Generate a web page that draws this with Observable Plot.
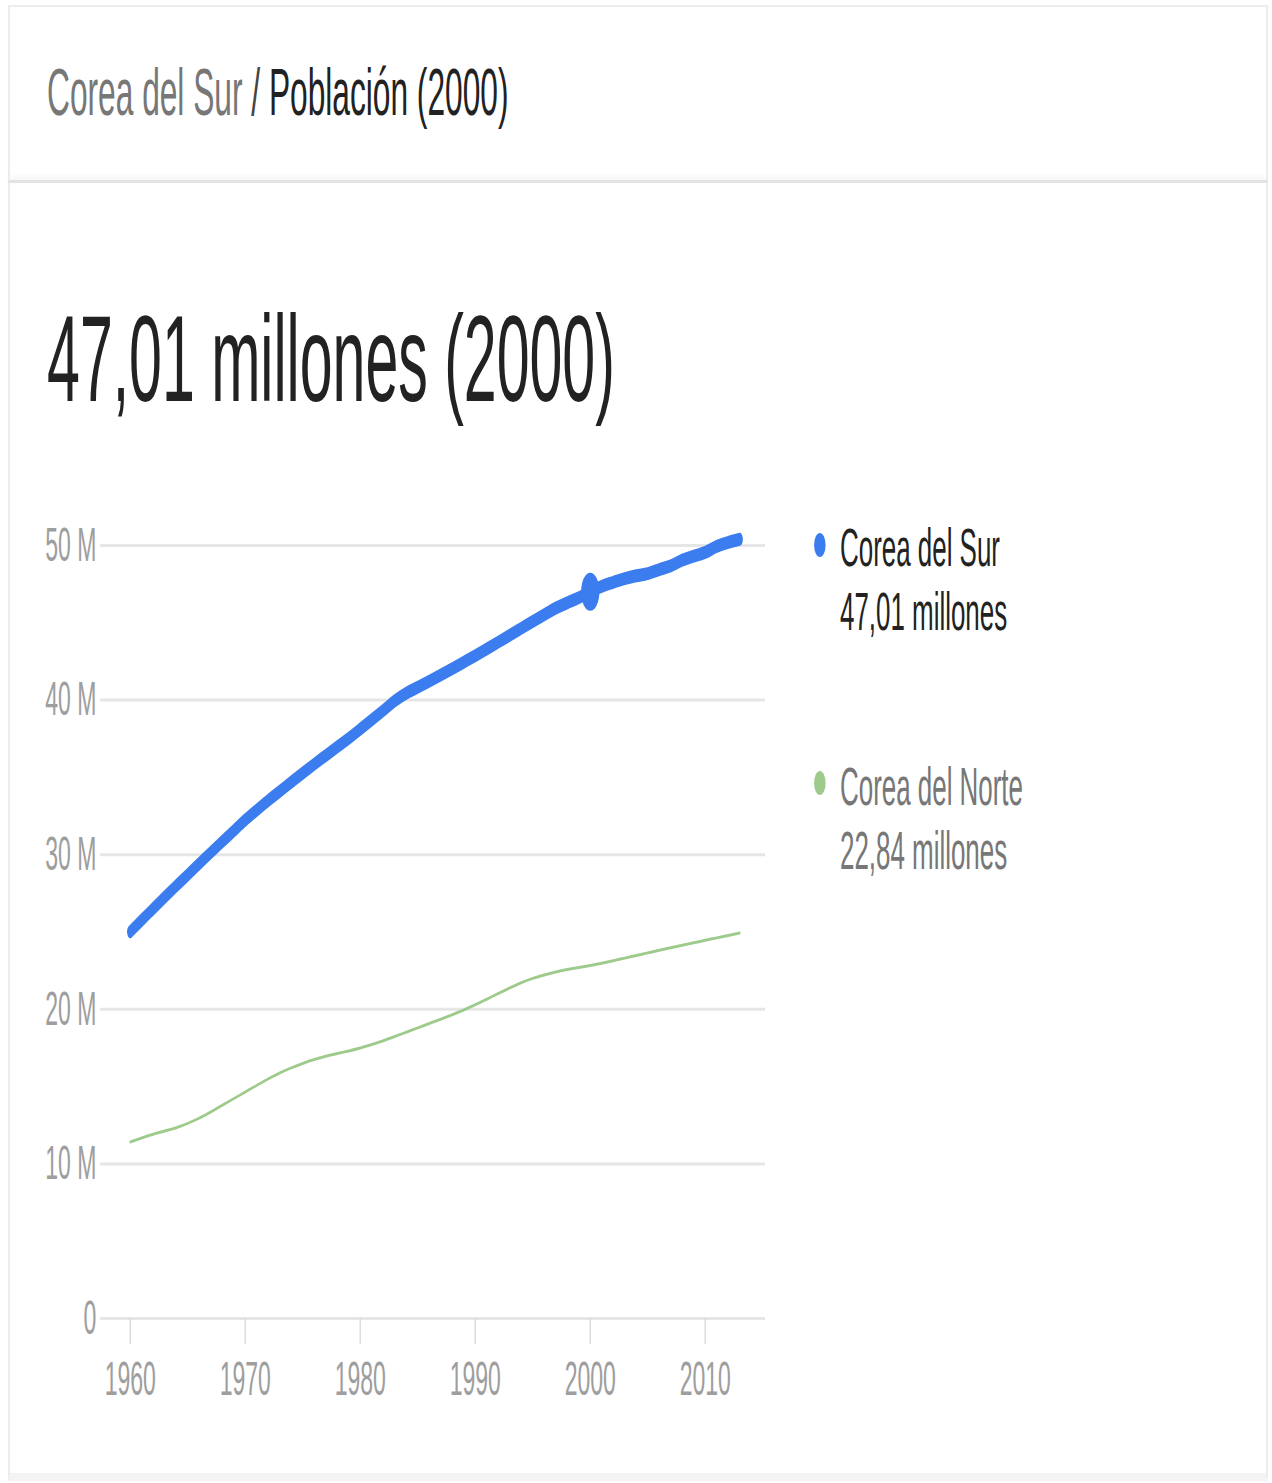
<!DOCTYPE html>
<html><head><meta charset="utf-8">
<script src="https://cdn.jsdelivr.net/npm/d3@7"></script>
<script src="https://cdn.jsdelivr.net/npm/@observablehq/plot@0.6"></script>
<style>
html,body{margin:0;padding:0;background:#fff;overflow:hidden;width:1272px;height:1483px;}
#card{position:absolute;left:8px;top:5px;width:1256px;height:1466px;border:2px solid #ececec;border-bottom:8px solid #f3f3f3;}
#sep{position:absolute;left:8px;top:180px;width:1260px;height:3px;background:#e3e3e3;box-shadow:0 -3px 5px #f1f1f1;}
#stage{position:absolute;left:0;top:0;width:2650px;height:1483px;transform:scaleX(0.48);transform-origin:0 0;font-family:"Liberation Sans",Arial,sans-serif;}
.t{position:absolute;white-space:nowrap;line-height:1;}
.dot{position:absolute;width:24px;height:24px;border-radius:50%;}
#plot{position:absolute;left:0;top:480px;}
</style></head>
<body>
<div id="card"></div>
<div id="sep"></div>
<div id="stage">
  <div class="t" id="title" style="left:98px;top:59px;font-size:66px;"></div>
  <div class="t" id="big" style="left:98px;top:297px;font-size:123px;color:#222;"></div>
  <div id="plot"></div>
  <div class="dot" id="d1" style="left:1696px;top:533px;"></div>
  <div class="t" id="l1a" style="left:1750px;top:520px;font-size:54px;color:#222;"></div>
  <div class="t" id="l1b" style="left:1750px;top:584px;font-size:54px;color:#222;"></div>
  <div class="dot" id="d2" style="left:1696px;top:771px;"></div>
  <div class="t" id="l2a" style="left:1750px;top:759px;font-size:54px;color:#777;"></div>
  <div class="t" id="l2b" style="left:1750px;top:823px;font-size:54px;color:#777;"></div>
</div>
<script>
const countryName = "Corea del Sur";
const otherName = "Corea del Norte";
const metricName = "Población";
const selYear = 2000;
const years = [1960,1961,1962,1963,1964,1965,1966,1967,1968,1969,1970,1971,1972,1973,1974,1975,1976,1977,1978,1979,1980,1981,1982,1983,1984,1985,1986,1987,1988,1989,1990,1991,1992,1993,1994,1995,1996,1997,1998,1999,2000,2001,2002,2003,2004,2005,2006,2007,2008,2009,2010,2011,2012,2013];
// millions
const south = [25.01,25.77,26.51,27.26,27.98,28.70,29.43,30.13,30.84,31.54,32.24,32.88,33.51,34.10,34.69,35.28,35.85,36.41,36.97,37.53,38.12,38.72,39.33,39.95,40.45,40.83,41.22,41.62,42.03,42.45,42.87,43.30,43.75,44.19,44.64,45.09,45.52,45.95,46.29,46.62,47.01,47.36,47.62,47.86,48.04,48.18,48.44,48.68,49.05,49.31,49.55,49.94,50.20,50.40];
const north = [11.42,11.68,11.92,12.13,12.34,12.62,12.96,13.36,13.79,14.22,14.65,15.08,15.50,15.88,16.21,16.50,16.75,16.96,17.14,17.31,17.50,17.72,17.97,18.24,18.52,18.80,19.08,19.36,19.65,19.96,20.29,20.65,21.02,21.38,21.72,22.00,22.22,22.41,22.57,22.71,22.84,22.98,23.14,23.31,23.48,23.65,23.82,23.98,24.14,24.30,24.46,24.62,24.78,24.93];
const yTicks = [0,10,20,30,40,50];
const xTicks = [1960,1970,1980,1990,2000,2010];
const blue = "#3b7dee";
const green = "#9ecb8c";

const s = 0.48;
const data = years.map((y,i)=>({year:y, south:south[i], north:north[i]}));
const sel = data.find(d=>d.year===selYear);
const fmt = v => v.toFixed(2).replace(".", ",") + " millones";

document.getElementById("title").innerHTML =
  `<span style="color:#777">${countryName}</span><span style="color:#444"> / </span><span style="color:#222">${metricName} (${selYear})</span>`;
document.getElementById("big").textContent = `${fmt(sel.south)} (${selYear})`;
document.getElementById("l1a").textContent = countryName;
document.getElementById("l1b").textContent = fmt(sel.south);
document.getElementById("l2a").textContent = otherName;
document.getElementById("l2b").textContent = fmt(sel.north);
document.getElementById("d1").style.background = blue;
document.getElementById("d2").style.background = green;

const W = 1650;
const chart = Plot.plot({
  width: W, height: 938,
  marginLeft: 100/s, marginRight: W - 765/s, marginTop: 65, marginBottom: 100,
  x: {domain: [1960 - 30/11.5, 1960 + 635/11.5]},
  y: {domain: [0, 50]},
  style: {fontFamily: '"Liberation Sans", Arial, sans-serif', fontSize: "48px", color: "#9e9e9e", background: "transparent", overflow: "visible"},
  marks: [
    Plot.ruleY(yTicks, {stroke: "#e6e6e6", strokeWidth: 3}),
    Plot.axisY({ticks: yTicks, tickSize: 0, tickPadding: 8, tickFormat: d => d ? d + " M" : "0", fill: "#9e9e9e", label: null}),
    Plot.axisX({ticks: xTicks, tickSize: 26, stroke: "#dcdcdc", strokeWidth: 3, tickFormat: () => "", label: null}),
    Plot.axisX({ticks: xTicks, tickSize: 0, tickPadding: 42, tickFormat: d => String(d), fill: "#9e9e9e", label: null}),
    Plot.lineY(data, {x: "year", y: "north", stroke: green, strokeWidth: 3, curve: "monotone-x"}),
    Plot.lineY(data, {x: "year", y: "south", stroke: blue, strokeWidth: 13, curve: "monotone-x"}),
    Plot.dot([sel], {x: "year", y: "south", r: 19, fill: blue})
  ]
});
document.getElementById("plot").appendChild(chart);
</script>
</body></html>
